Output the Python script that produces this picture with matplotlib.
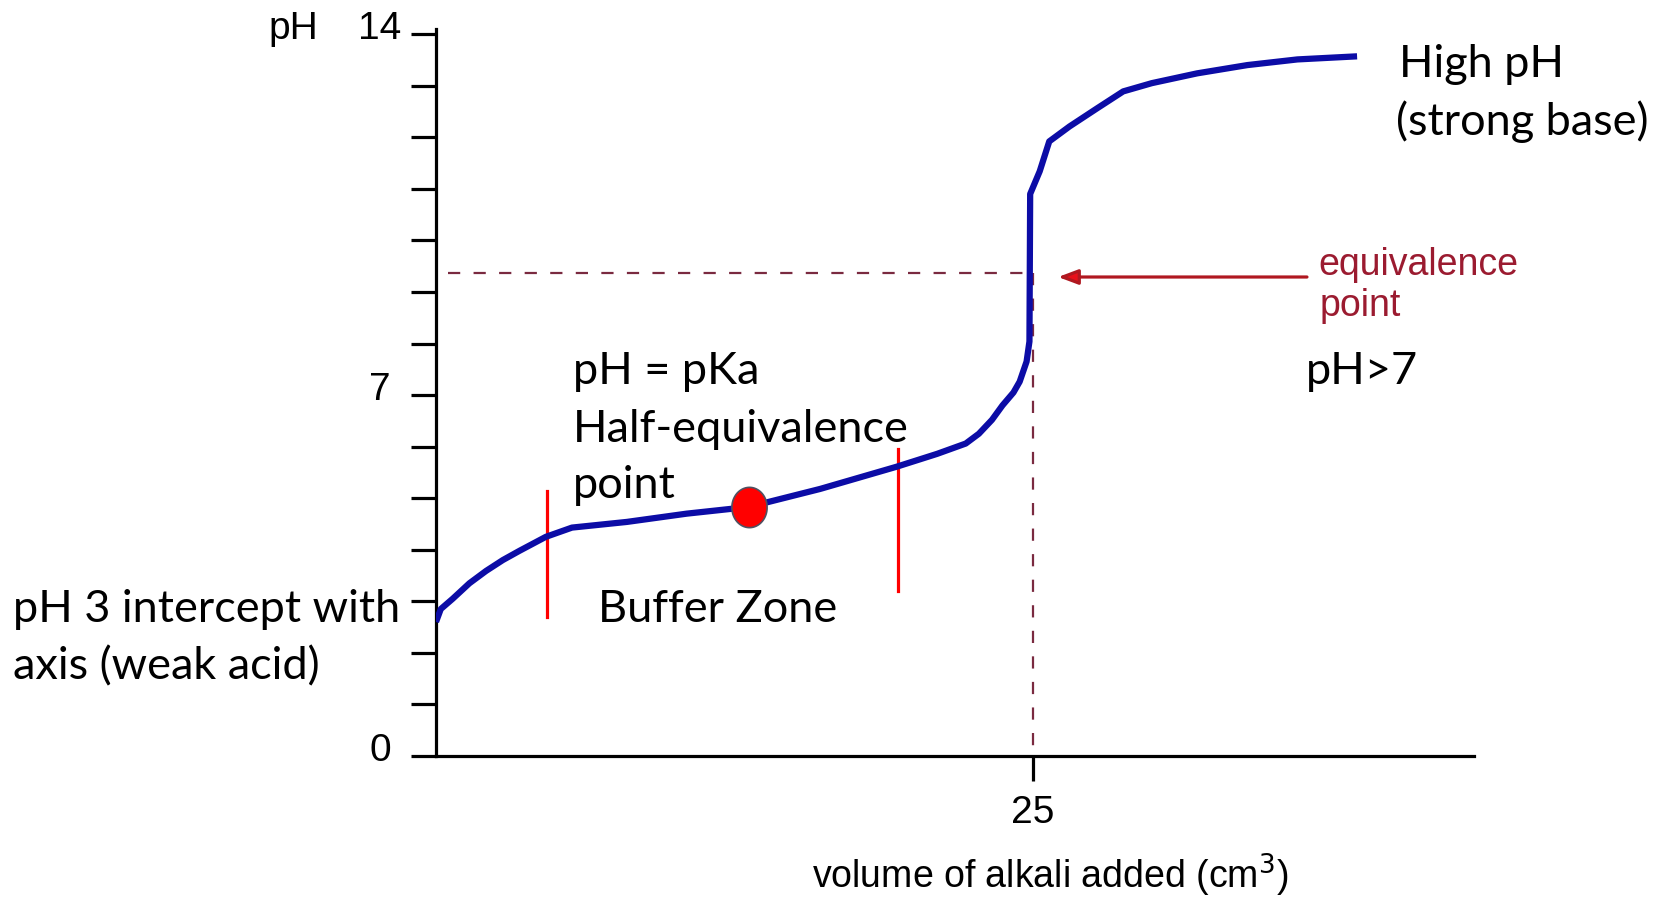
import matplotlib
matplotlib.use("Agg")
import matplotlib.pyplot as plt
import numpy as np

# Titration curve: weak acid titrated with strong base
volume = [0.0, 0.2, 0.7, 1.4, 2.1, 2.8, 3.5, 4.6, 5.7, 8.0, 10.5, 13.1, 16.1,
          19.3, 21.0, 22.2, 22.75, 23.3, 23.74, 24.2, 24.46, 24.75, 24.87, 24.9,
          25.3, 25.7, 26.55, 27.7, 28.8, 30.0, 31.9, 34.0, 36.1, 38.6]
ph = [2.6, 2.85, 3.05, 3.35, 3.59, 3.8, 3.98, 4.25, 4.43, 4.54, 4.70, 4.83, 5.18,
      5.61, 5.86, 6.06, 6.25, 6.52, 6.80, 7.05, 7.26, 7.65, 8.04, 10.9,
      11.34, 11.92, 12.21, 12.56, 12.89, 13.05, 13.24, 13.40, 13.51, 13.57]

half_eq_volume = 13.1
half_eq_ph = 4.83
equivalence_volume = 25
equivalence_ph = 9.36
buffer_bounds = [(4.65, 2.70, 5.13), (19.36, 3.20, 5.96)]

y_tick_values = list(range(0, 15))
y_tick_labels = {0: "0", 7: "7", 14: "14"}
x_tick_values = [25]

W, H = 1663, 904
fig = plt.figure(figsize=(W / 100, H / 100), dpi=100)
ax = fig.add_axes([436 / W, 1 - 757 / H, (1474 - 436) / W, (757 - 30) / H])
ax.set_xlim(0, 43.5)
ax.set_ylim(0, 14.1)

for s in ("top", "right"):
    ax.spines[s].set_visible(False)
for s in ("left", "bottom"):
    ax.spines[s].set_linewidth(2.3)
    ax.spines[s].set_color("black")

ax.set_yticks(y_tick_values)
ax.set_yticklabels([])
ax.set_xticks(x_tick_values)
ax.set_xticklabels([])
ax.tick_params(axis="both", direction="out", length=18, width=2.3, color="black")

pix = "Liberation Sans"
for v, lab in y_tick_labels.items():
    xr = -1.47 if v == 14 else -1.9
    ax.text(xr, v + 0.12, lab, ha="right", va="center", fontsize=28,
            family=pix, clip_on=False)
ax.text(-4.95, 14.12, "pH", ha="right", va="center", fontsize=28,
        family=pix, clip_on=False)
for v in x_tick_values:
    ax.text(v, -1.08, str(v), ha="center", va="center", fontsize=28,
            family=pix, clip_on=False)
fig.text(1050 / W, 1 - 889 / H, "volume of alkali added (cm$^3$)",
         ha="center", va="baseline", fontsize=27, family=pix)

# Equivalence guides
dash_col = "#7a2a40"
ax.plot([0.5, equivalence_volume - 0.1], [equivalence_ph, equivalence_ph],
        color=dash_col, lw=1.6, dashes=(5.5, 6))
ax.plot([equivalence_volume, equivalence_volume], [equivalence_ph, 0],
        color=dash_col, lw=1.6, dashes=(5.5, 6))

# Buffer zone limits
for xv, y0, y1 in buffer_bounds:
    ax.plot([xv, xv], [y0, y1], color="#ff0000", lw=2.3)

# Curve
ax.plot(volume, ph, color="#0c0ca6", lw=4.5, solid_capstyle="butt",
        solid_joinstyle="round", zorder=3)

# Half-equivalence marker (slightly taller than wide)
t = np.linspace(0, 2 * np.pi, 60)
ell = np.column_stack([0.875 * np.cos(t), np.sin(t)])
ax.plot([half_eq_volume], [half_eq_ph], marker=ell, markersize=29,
        markerfacecolor="#ff0000", markeredgecolor="#505060",
        markeredgewidth=1.2, zorder=4, linestyle="none")

# Arrow to equivalence point
ax.annotate("", xy=(26.07, 9.29), xytext=(36.5, 9.29),
            arrowprops=dict(arrowstyle="-|>,head_length=1.2,head_width=0.45",
                            color="#8b2a30", lw=2.3, shrinkA=0, shrinkB=0,
                            fc="#e8101a", ec="#b01820"))
red_txt = "#9b1b30"
fig.text(1318 / W, 1 - 275 / H, "equivalence", ha="left", va="baseline",
         fontsize=27, family=pix, color=red_txt)
fig.text(1320 / W, 1 - 316 / H, "point", ha="left", va="baseline",
         fontsize=27, family=pix, color=red_txt)

# Annotations
big = dict(ha="left", va="baseline", fontsize=32.5, family="Lato", color="black")
fig.text(1399 / W, 1 - 77 / H, "High pH", **big)
fig.text(1396 / W, 1 - 135 / H, "(strong base)", **big)
fig.text(573 / W, 1 - 384 / H, "pH = pKa", **big)
fig.text(573 / W, 1 - 442 / H, "Half-equivalence", **big)
fig.text(573 / W, 1 - 498 / H, "point", **big)
fig.text(598 / W, 1 - 622 / H, "Buffer Zone", **big)
fig.text(1306 / W, 1 - 384 / H, "pH>7", **big)
fig.text(13 / W, 1 - 622 / H, "pH 3 intercept with", **big)
fig.text(13 / W, 1 - 679 / H, "axis (weak acid)", **big)

fig.savefig("out.png", dpi=100)
